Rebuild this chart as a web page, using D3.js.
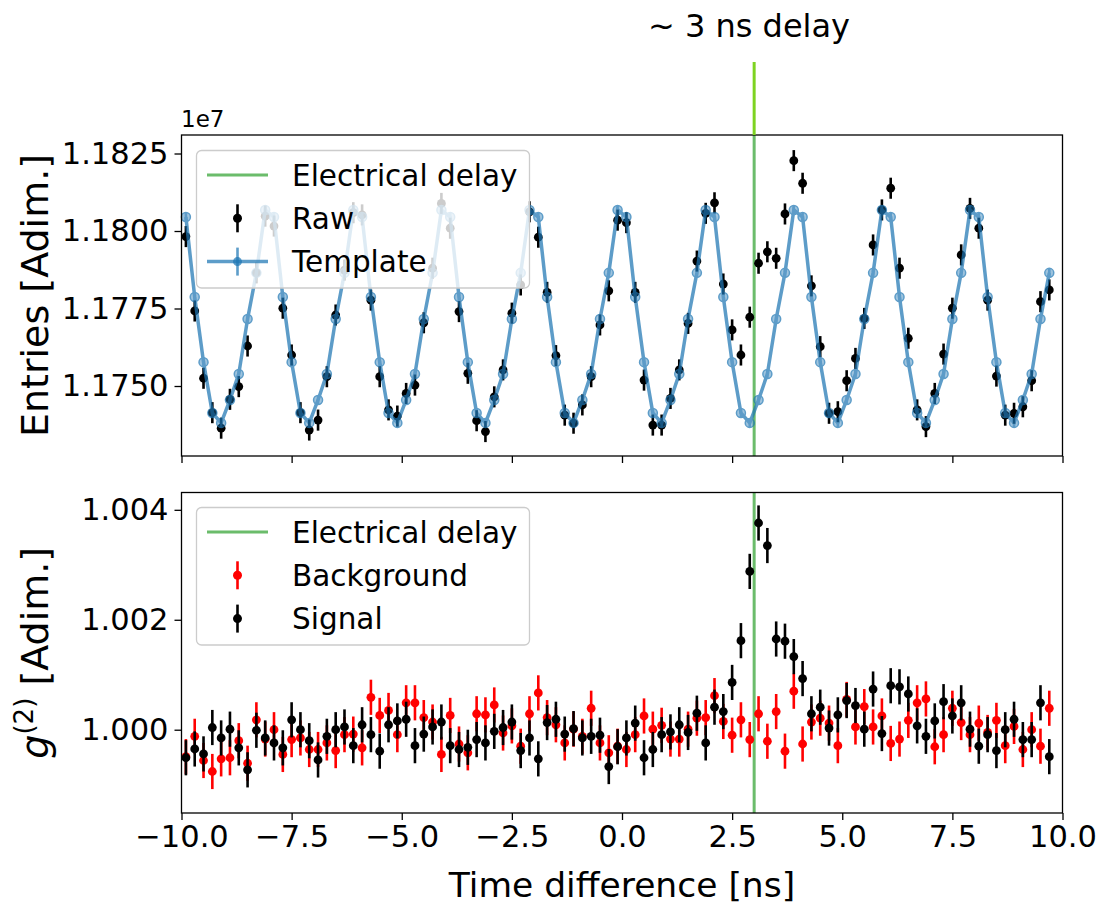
<!DOCTYPE html>
<html>
<head>
<meta charset="utf-8">
<script src="https://cdn.jsdelivr.net/npm/d3@7"></script>
<style>
body { margin: 0; background: #fff; }
svg text { font-family: "DejaVu Sans", sans-serif; fill: #000; }
</style>
</head>
<body>
<div id="chart"></div>
<script>
/* -----------------------
data
------------------------- */

// bin centres, ns
var binCenters = [
  -9.9, -9.7, -9.5, -9.3, -9.1, -8.9, -8.7, -8.5, -8.3, -8.1,
  -7.9, -7.7, -7.5, -7.3, -7.1, -6.9, -6.7, -6.5, -6.3, -6.1,
  -5.9, -5.7, -5.5, -5.3, -5.1, -4.9, -4.7, -4.5, -4.3, -4.1,
  -3.9, -3.7, -3.5, -3.3, -3.1, -2.9, -2.7, -2.5, -2.3, -2.1,
  -1.9, -1.7, -1.5, -1.3, -1.1, -0.9, -0.7, -0.5, -0.3, -0.1,
  0.1, 0.3, 0.5, 0.7, 0.9, 1.1, 1.3, 1.5, 1.7, 1.9,
  2.1, 2.3, 2.5, 2.7, 2.9, 3.1, 3.3, 3.5, 3.7, 3.9,
  4.1, 4.3, 4.5, 4.7, 4.9, 5.1, 5.3, 5.5, 5.7, 5.9,
  6.1, 6.3, 6.5, 6.7, 6.9, 7.1, 7.3, 7.5, 7.7, 7.9,
  8.1, 8.3, 8.5, 8.7, 8.9, 9.1, 9.3, 9.5, 9.7
];

// raw entries, units of 1e7
var rawEntries = [
  1.17982, 1.17742, 1.17525, 1.17414, 1.17364, 1.17457, 1.17498, 1.17629, 1.17865, 1.18048,
  1.18016, 1.17751, 1.17600, 1.17414, 1.17358, 1.17390, 1.17530, 1.17729, 1.17874, 1.18059,
  1.18052, 1.17777, 1.17530, 1.17423, 1.17403, 1.17476, 1.17503, 1.17704, 1.17880, 1.18089,
  1.18009, 1.17740, 1.17541, 1.17388, 1.17353, 1.17465, 1.17552, 1.17735, 1.17826, 1.18062,
  1.17980, 1.17802, 1.17598, 1.17406, 1.17380, 1.17439, 1.17530, 1.17697, 1.17807, 1.18035,
  1.18027, 1.17802, 1.17519, 1.17374, 1.17374, 1.17460, 1.17552, 1.17702, 1.17903, 1.18057,
  1.18091, 1.17829, 1.17681, 1.17600, 1.17722, 1.17896, 1.17933, 1.17912, 1.18055, 1.18227,
  1.18154, 1.17823, 1.17627, 1.17412, 1.17417, 1.17517, 1.17589, 1.17718, 1.17955, 1.18068,
  1.18138, 1.17880, 1.17654, 1.17423, 1.17369, 1.17476, 1.17603, 1.17751, 1.17923, 1.18073,
  1.18009, 1.17777, 1.17532, 1.17406, 1.17412, 1.17433, 1.17517, 1.17772, 1.17810
];

// template entries, units of 1e7
var templateEntries = [
  1.18045, 1.17787, 1.17577, 1.17413, 1.17381, 1.17455, 1.17539, 1.17716, 1.17865, 1.18068,
  1.18045, 1.17787, 1.17577, 1.17413, 1.17381, 1.17455, 1.17539, 1.17716, 1.17865, 1.18068,
  1.18045, 1.17787, 1.17577, 1.17413, 1.17381, 1.17455, 1.17539, 1.17716, 1.17865, 1.18068,
  1.18045, 1.17787, 1.17577, 1.17413, 1.17381, 1.17455, 1.17539, 1.17716, 1.17865, 1.18068,
  1.18045, 1.17787, 1.17577, 1.17413, 1.17381, 1.17455, 1.17539, 1.17716, 1.17865, 1.18068,
  1.18045, 1.17787, 1.17577, 1.17413, 1.17381, 1.17455, 1.17539, 1.17716, 1.17865, 1.18068,
  1.18045, 1.17787, 1.17577, 1.17413, 1.17381, 1.17455, 1.17539, 1.17716, 1.17865, 1.18068,
  1.18045, 1.17787, 1.17577, 1.17413, 1.17381, 1.17455, 1.17539, 1.17716, 1.17865, 1.18068,
  1.18045, 1.17787, 1.17577, 1.17413, 1.17381, 1.17455, 1.17539, 1.17716, 1.17865, 1.18068,
  1.18045, 1.17787, 1.17577, 1.17413, 1.17381, 1.17455, 1.17539, 1.17716, 1.17865
];

// g2 signal
var signalG2 = [
  0.99949, 0.99965, 0.99956, 1.00004, 0.99985, 1.00001, 0.99967, 0.99927, 0.99999, 0.99985,
  0.99976, 0.99967, 1.00018, 1.00000, 0.99980, 0.99945, 0.99988, 1.00000, 1.00005, 0.99971,
  1.00009, 0.99991, 0.99961, 1.00009, 1.00016, 1.00019, 0.99971, 0.99992, 1.00005, 1.00014,
  0.99971, 0.99964, 0.99968, 0.99982, 0.99976, 0.99997, 1.00004, 1.00014, 0.99962, 0.99985,
  0.99947, 1.00013, 1.00019, 0.99992, 1.00002, 0.99985, 0.99988, 0.99990, 0.99933, 0.99969,
  0.99985, 1.00012, 0.99949, 0.99964, 0.99991, 0.99996, 1.00009, 0.99995, 1.00030, 0.99976,
  1.00041, 1.00033, 1.00086, 1.00162, 1.00288, 1.00376, 1.00335, 1.00165, 1.00161, 1.00133,
  1.00093, 1.00029, 1.00041, 1.00003, 1.00027, 1.00053, 1.00044, 1.00001, 1.00074, 0.99993,
  1.00080, 1.00078, 1.00065, 1.00007, 0.99988, 1.00016, 1.00051, 1.00025, 1.00049, 1.00001,
  0.99970, 0.99991, 0.99962, 1.00000, 1.00019, 0.99982, 0.99982, 1.00049, 0.99951
];

// g2 background
var backgroundG2 = [
  0.99951, 0.99988, 0.99944, 0.99924, 0.99947, 0.99949, 0.99980, 0.99939, 1.00018, 0.99983,
  1.00000, 0.99955, 0.99982, 0.99985, 0.99964, 0.99964, 0.99976, 0.99962, 0.99991, 0.99992,
  0.99967, 1.00059, 1.00026, 1.00035, 0.99991, 1.00049, 1.00049, 1.00022, 1.00014, 0.99955,
  1.00026, 0.99974, 0.99958, 1.00029, 1.00027, 1.00045, 0.99994, 1.00007, 0.99970, 1.00029,
  1.00067, 1.00022, 1.00009, 0.99976, 1.00001, 0.99988, 1.00039, 0.99976, 0.99958, 0.99970,
  0.99964, 0.99991, 1.00025, 1.00001, 1.00008, 0.99983, 0.99983, 1.00001, 1.00021, 1.00022,
  1.00062, 1.00015, 0.99990, 1.00018, 0.99982, 1.00029, 0.99979, 1.00033, 0.99961, 1.00070,
  0.99974, 1.00014, 1.00021, 1.00012, 0.99971, 1.00055, 1.00005, 1.00042, 1.00005, 1.00025,
  0.99975, 0.99983, 1.00017, 1.00049, 1.00056, 0.99969, 0.99991, 1.00039, 1.00013, 0.99991,
  1.00012, 0.99995, 1.00017, 0.99971, 1.00006, 0.99964, 1.00000, 0.99970, 1.00039
];

var rawErr = 0.00034, templateErr = 0.00015, g2Err = 0.00032;
var delayNs = 3.0;

var xTicks = [-10, -7.5, -5, -2.5, 0, 2.5, 5, 7.5, 10];
var topTicks = [1.1750, 1.1775, 1.1800, 1.1825];
var bottomTicks = [1.000, 1.002, 1.004];

/* -----------------------
main variables
------------------------- */

var width = 1108, height = 906;
var left = 181.5, right = 1062.5;
var top1 = 135, bot1 = 456;
var top2 = 492.5, bot2 = 813;
var tickFont = 30.5, legendFont = 29.5, xLabelFont = 34.5, yLabelFont = 38;

var blue = "#1f77b4", delayGreen = "#2ca02c";

var svg = d3.select("#chart")
  .append("svg")
  .attr("width", width)
  .attr("height", height);

var x = d3.scaleLinear().domain([-10, 10]).range([left, right]);
var yTop = d3.scaleLinear().domain([1.172742, 1.183097]).range([bot1, top1]);
var yBot = d3.scaleLinear().domain([0.998485, 1.004315]).range([bot2, top2]);

/* -----------------------
helpers
------------------------- */

function axes(yScale, yt, fmt, yBottom, yTopPx, showXLabels) {
  var gx = svg.append("g")
    .attr("transform", "translate(0," + yBottom + ")")
    .call(d3.axisBottom(x).tickValues(xTicks).tickSize(7).tickPadding(5)
      .tickFormat(showXLabels ? d3.format(".1f") : function() { return ""; }));
  gx.select(".domain").remove();
  gx.selectAll("line").attr("stroke", "#000").attr("stroke-width", 1.3);
  gx.selectAll("text").attr("font-size", tickFont).attr("font-family", "DejaVu Sans");

  var gy = svg.append("g")
    .attr("transform", "translate(" + left + ",0)")
    .call(d3.axisLeft(yScale).tickValues(yt).tickSize(7).tickPadding(6).tickFormat(d3.format(fmt)));
  gy.select(".domain").remove();
  gy.selectAll("line").attr("stroke", "#000").attr("stroke-width", 1.3);
  gy.selectAll("text").attr("font-size", tickFont).attr("font-family", "DejaVu Sans");

  svg.append("rect")
    .attr("x", left).attr("y", yTopPx)
    .attr("width", right - left).attr("height", yBottom - yTopPx)
    .attr("fill", "none").attr("stroke", "#000").attr("stroke-width", 1.3);
}

function errPoints(vals, err, yScale, color, r) {
  var g = svg.append("g");
  g.selectAll("line")
    .data(vals).enter().append("line")
    .attr("x1", function(d, i) { return x(binCenters[i]); })
    .attr("x2", function(d, i) { return x(binCenters[i]); })
    .attr("y1", function(d) { return yScale(d - err); })
    .attr("y2", function(d) { return yScale(d + err); })
    .attr("stroke", color).attr("stroke-width", 2.6);
  g.selectAll("circle")
    .data(vals).enter().append("circle")
    .attr("cx", function(d, i) { return x(binCenters[i]); })
    .attr("cy", function(d) { return yScale(d); })
    .attr("r", r).attr("fill", color);
  return g;
}

function delayLine(yt, yb) {
  svg.append("line")
    .attr("x1", x(delayNs)).attr("x2", x(delayNs))
    .attr("y1", yt).attr("y2", yb)
    .attr("stroke", delayGreen).attr("stroke-opacity", 0.7).attr("stroke-width", 3);
}

function legend(y0, items) {
  var g = svg.append("g");
  g.append("rect")
    .attr("x", 196.5).attr("y", y0).attr("width", 333).attr("height", 137.5)
    .attr("rx", 5).attr("fill", "#fff").attr("fill-opacity", 0.8)
    .attr("stroke", "#cccccc").attr("stroke-width", 1.3);
  items.forEach(function(it, i) {
    var cy = y0 + 24.5 + i * 43.3;
    if (it.line) {
      g.append("line").attr("x1", 207).attr("x2", 268).attr("y1", cy).attr("y2", cy)
        .attr("stroke", it.color).attr("stroke-opacity", it.alpha || 1).attr("stroke-width", it.lw || 3);
    }
    if (it.marker) {
      g.append("line").attr("x1", 237.5).attr("x2", 237.5).attr("y1", cy - 14).attr("y2", cy + 14)
        .attr("stroke", it.color).attr("stroke-opacity", it.alpha || 1).attr("stroke-width", 2.6);
      g.append("circle").attr("cx", 237.5).attr("cy", cy).attr("r", 4.5)
        .attr("fill", it.color).attr("fill-opacity", it.alpha || 1);
    }
    g.append("text").attr("x", 292).attr("y", cy).attr("dy", "0.36em")
      .attr("font-size", legendFont).text(it.label);
  });
}

/* -----------------------
top panel: raw + template
------------------------- */

delayLine(top1, bot1);

errPoints(rawEntries, rawErr, yTop, "#000", 4.4);

var line = d3.line()
  .x(function(d, i) { return x(binCenters[i]); })
  .y(function(d) { return yTop(d); });

var tpl = svg.append("g").attr("opacity", 0.72);
tpl.append("path")
  .datum(templateEntries)
  .attr("d", line)
  .attr("fill", "none")
  .attr("stroke", blue)
  .attr("stroke-width", 3.5);
tpl.selectAll("line.err")
  .data(templateEntries).enter().append("line")
  .attr("x1", function(d, i) { return x(binCenters[i]); })
  .attr("x2", function(d, i) { return x(binCenters[i]); })
  .attr("y1", function(d) { return yTop(d - templateErr); })
  .attr("y2", function(d) { return yTop(d + templateErr); })
  .attr("stroke", blue).attr("stroke-width", 2.6);
tpl.selectAll("circle")
  .data(templateEntries).enter().append("circle")
  .attr("cx", function(d, i) { return x(binCenters[i]); })
  .attr("cy", function(d) { return yTop(d); })
  .attr("r", 4.5)
  .attr("fill", blue).attr("fill-opacity", 0.6)
  .attr("stroke", blue).attr("stroke-width", 1.5);

axes(yTop, topTicks, ".4f", bot1, top1, false);

svg.append("text")
  .attr("x", 181).attr("y", 127)
  .attr("font-size", 23)
  .text("1e7");

legend(150.5, [
  {label: "Electrical delay", line: true, color: delayGreen, alpha: 0.7},
  {label: "Raw", marker: true, color: "#000"},
  {label: "Template", line: true, marker: true, color: blue, alpha: 0.72, lw: 3.5}
]);

/* -----------------------
bottom panel: g2
------------------------- */

delayLine(top2, bot2);
errPoints(backgroundG2, g2Err, yBot, "#ff0000", 4.4);
errPoints(signalG2, g2Err, yBot, "#000", 4.4);

axes(yBot, bottomTicks, ".3f", bot2, top2, true);

legend(507.5, [
  {label: "Electrical delay", line: true, color: delayGreen, alpha: 0.7},
  {label: "Background", marker: true, color: "#ff0000"},
  {label: "Signal", marker: true, color: "#000"}
]);

/* -----------------------
labels + annotation
------------------------- */

svg.append("text")
  .attr("x", (left + right) / 2).attr("y", 897)
  .attr("text-anchor", "middle")
  .attr("font-size", xLabelFont)
  .text("Time difference [ns]");

svg.append("text")
  .attr("transform", "translate(48," + ((top1 + bot1) / 2) + ") rotate(-90)")
  .attr("text-anchor", "middle")
  .attr("font-size", yLabelFont)
  .text("Entries [Adim.]");

var g2lab = svg.append("text")
  .attr("transform", "translate(48," + ((top2 + bot2) / 2) + ") rotate(-90)")
  .attr("text-anchor", "middle")
  .attr("font-size", yLabelFont);
g2lab.append("tspan").attr("font-style", "italic").text("g");
g2lab.append("tspan").attr("font-size", 26).attr("dy", -15).text("(2)");
g2lab.append("tspan").attr("dy", 15).text(" [Adim.]");

// annotation above the figure
svg.append("line")
  .attr("x1", x(delayNs)).attr("x2", x(delayNs))
  .attr("y1", 62).attr("y2", top1)
  .attr("stroke", "#7ed321").attr("stroke-width", 3);

svg.append("text")
  .attr("x", 749).attr("y", 37)
  .attr("text-anchor", "middle")
  .attr("font-family", "Liberation Sans, Arial, sans-serif")
  .attr("font-size", 32)
  .text("~ 3 ns delay");
</script>
</body>
</html>
